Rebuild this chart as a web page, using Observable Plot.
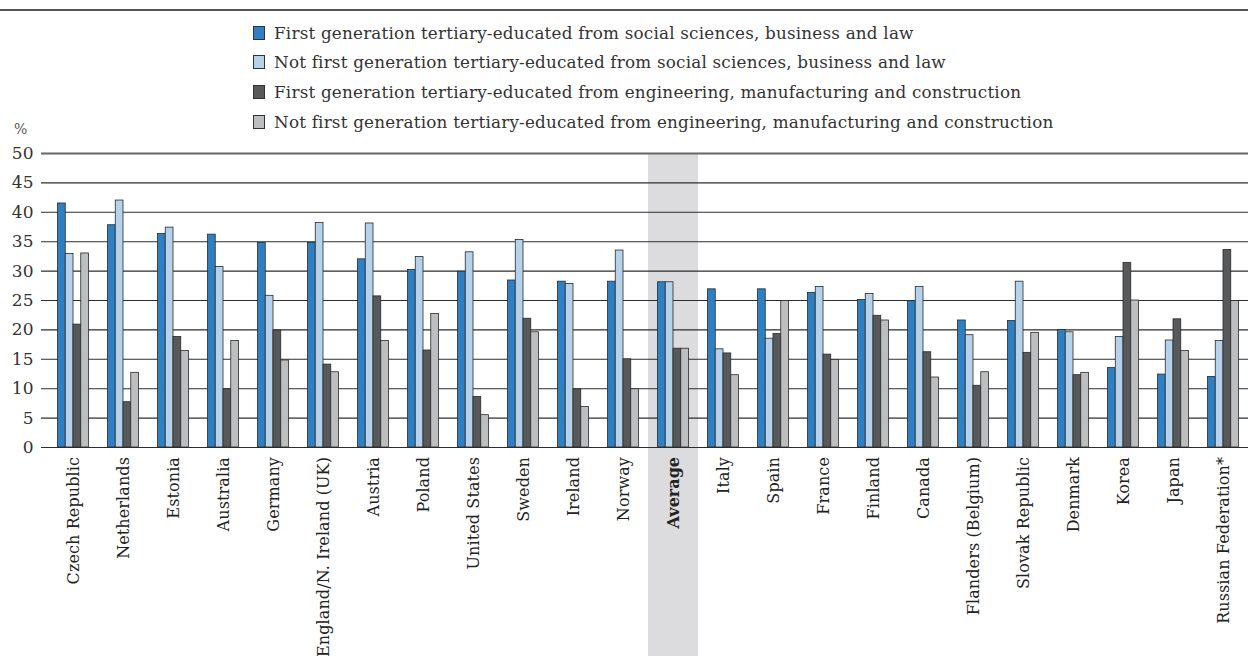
<!DOCTYPE html>
<html>
<head>
<meta charset="utf-8">
<script src="https://cdn.jsdelivr.net/npm/d3@7"></script>
<script src="https://cdn.jsdelivr.net/npm/@observablehq/plot@0.6"></script>
<style>
  html, body { margin: 0; padding: 0; background: white; }
  #wrap { width: 1248px; height: 656px; position: relative; overflow: hidden; font-family: "DejaVu Serif", serif; }
  #head { position: relative; width: 1248px; height: 140px; }
  #rule { position: absolute; left: 0; top: 9px; width: 1248px; height: 2px; background: #555; }
  .lg { position: absolute; left: 253px; height: 20px; display: flex; align-items: center; font-size: 16.8px; letter-spacing: 0.2px; color: #333; white-space: nowrap; }
  .sw { width: 12px; height: 14px; border: 1px solid #333; box-sizing: border-box; margin-right: 9px; flex: none; }
  #pct { position: absolute; left: 14px; top: 121px; font-size: 14px; color: #555; }
  .xl { letter-spacing: 0.1px; }
</style>
</head>
<body>
<div id="wrap">
  <div id="head"><div id="rule"></div><div id="legend"></div><div id="pct">%</div></div>
  <div id="chart"></div>
</div>
<script>
const countries = ["Czech Republic","Netherlands","Estonia","Australia","Germany","England/N. Ireland (UK)","Austria","Poland","United States","Sweden","Ireland","Norway","Average","Italy","Spain","France","Finland","Canada","Flanders (Belgium)","Slovak Republic","Denmark","Korea","Japan","Russian Federation*"];

const firstSocial    = [41.5,37.8,36.3,36.2,34.8,34.8,32.0,30.2,29.9,28.4,28.2,28.2,28.1,26.9,26.9,26.3,25.1,24.9,21.6,21.5,20.0,13.5,12.4,12.0];
const notFirstSocial = [32.9,42.0,37.4,30.7,25.8,38.2,38.1,32.4,33.2,35.3,27.8,33.5,28.1,16.7,18.5,27.3,26.1,27.3,19.1,28.2,19.6,18.8,18.2,18.1];
const firstEng       = [20.9,7.7,18.8,9.9,19.9,14.1,25.7,16.5,8.6,21.9,9.9,15.0,16.8,16.0,19.3,15.8,22.4,16.2,10.5,16.1,12.3,31.4,21.8,33.6];
const notFirstEng    = [33.0,12.7,16.4,18.1,14.8,12.8,18.1,22.7,5.5,19.6,6.9,9.9,16.8,12.3,24.9,14.9,21.6,11.9,12.8,19.5,12.7,25.0,16.4,24.9];

const seriesNames = [
  "First generation tertiary-educated from social sciences, business and law",
  "Not first generation tertiary-educated from social sciences, business and law",
  "First generation tertiary-educated from engineering, manufacturing and construction",
  "Not first generation tertiary-educated from engineering, manufacturing and construction"
];
const seriesValues = [firstSocial, notFirstSocial, firstEng, notFirstEng];
const seriesColors = ["#2f80c2", "#b5d2ea", "#58595b", "#bdbec0"];
const yTicks = [0,5,10,15,20,25,30,35,40,45,50];
const highlight = "Average";

// legend
const legend = document.getElementById("legend");
const rowTops = [23, 52, 82, 112];
seriesNames.forEach((name, k) => {
  const row = document.createElement("div");
  row.className = "lg";
  row.style.top = rowTops[k] + "px";
  const sw = document.createElement("div");
  sw.className = "sw";
  sw.style.background = seriesColors[k];
  row.appendChild(sw);
  row.appendChild(document.createTextNode(name));
  legend.appendChild(row);
});

// tidy rows
const rows = [];
seriesValues.forEach((vals, k) => {
  countries.forEach((c, i) => rows.push({country: c, series: seriesNames[k], k, value: vals[i]}));
});

const step = 50, groupPad = 9.5, barW = 7.75;
const barMarks = seriesNames.map((name, k) =>
  Plot.barY(rows.filter(d => d.k === k), {
    x: "country", y: "value",
    fill: seriesColors[k], stroke: "#2a2a2a", strokeWidth: 0.8,
    insetLeft: groupPad + barW * k,
    insetRight: step - groupPad - barW * (k + 1)
  })
);

const chart = Plot.plot({
  width: 1248, height: 516,
  marginTop: 13, marginBottom: 209, marginLeft: 48, marginRight: 0,
  x: {domain: countries, padding: 0, axis: null},
  y: {domain: [0, 50], ticks: yTicks, tickSize: 0, tickPadding: 15, label: null},
  style: {fontFamily: "DejaVu Serif, serif", fontSize: "17px", color: "#333", background: "white", overflow: "visible"},
  marks: [
    Plot.barY([highlight], {x: d => d, y1: 0, y2: 50, fill: "#dcdcde", insetBottom: -209}),
    Plot.ruleY(yTicks, {stroke: d => d === 50 ? "#666" : "#2d2d2d", strokeWidth: d => d === 50 ? 2 : 1.1, insetLeft: -7}),
    ...barMarks,
    Plot.text(countries.filter(c => c !== highlight), {
      x: d => d, text: d => d, frameAnchor: "bottom", rotate: -90,
      textAnchor: "end", lineAnchor: "middle", dy: 9.5, fontSize: 16, fill: "#222", className: "xl"
    }),
    Plot.text([highlight], {
      x: d => d, text: d => d, frameAnchor: "bottom", rotate: -90,
      textAnchor: "end", lineAnchor: "middle", dy: 9.5, fontSize: 16, fontWeight: "bold", fill: "#222"
    })
  ]
});
document.getElementById("chart").appendChild(chart);
</script>
</body>
</html>
